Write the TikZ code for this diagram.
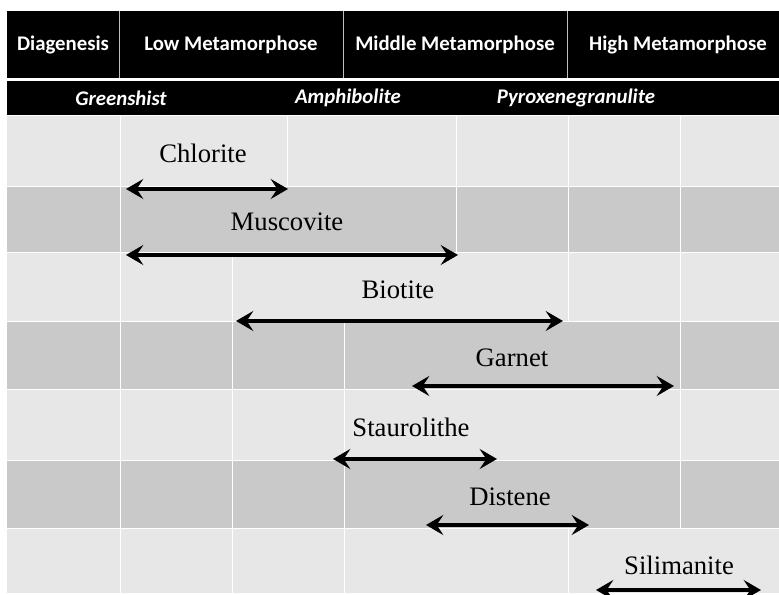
\documentclass[tikz,border=0pt]{standalone}
\usepackage{fontspec}
\setmainfont{Liberation Serif}
\newfontfamily\hdfont{Carlito}
\usetikzlibrary{arrows.meta}

\definecolor{rowlight}{RGB}{231,231,231}
\definecolor{rowdark}{RGB}{201,201,201}
\definecolor{hdline}{RGB}{190,190,190}

\tikzset{
  hdtext/.style={text=white, inner sep=0.75pt, font=\hdfont\bfseries\fontsize{15.6}{18}\selectfont},
  subtext/.style={text=white, inner sep=0.75pt, font=\hdfont\bfseries\itshape\fontsize{15.6}{18}\selectfont},
  mineral/.style={inner sep=0.75pt, font=\fontsize{20}{24}\selectfont},
  spanarrow/.style={line width=3.6pt, {Stealth[length=13pt,width=15pt,inset=5pt]}-{Stealth[length=13pt,width=15pt,inset=5pt]}},
  gridline/.style={white, line width=0.75pt},
}

\begin{document}
\begin{tikzpicture}[x=0.75pt,y=0.75pt,yscale=-1,xscale=1]
\useasboundingbox (0,0) rectangle (779,595);
\fill[white] (0,0) rectangle (779,595);
%Header bars
\fill[black] (7,11) rectangle (779,78);
\fill[black] (7,81) rectangle (779,115);
\draw[hdline, line width=0.75pt] (119,11) -- (119,78);
\draw[hdline, line width=0.75pt] (343,11) -- (343,78);
\draw[hdline, line width=0.75pt] (567,11) -- (567,78);
%Rows
\fill[rowlight] (7,116) rectangle (779,187);
\fill[rowdark]  (7,187) rectangle (779,253);
\fill[rowlight] (7,253) rectangle (779,322);
\fill[rowdark]  (7,322) rectangle (779,390);
\fill[rowlight] (7,390) rectangle (779,461);
\fill[rowdark]  (7,461) rectangle (779,528);
\fill[rowlight] (7,528) rectangle (779,593);
%Grid lines
\draw[gridline] (7,187) -- (779,187) (7,253) -- (779,253) (7,322) -- (779,322)
  (7,390) -- (779,390) (7,461) -- (779,461) (7,528) -- (779,528);
\draw[gridline] (120,116) -- (120,187) (287,116) -- (287,187) (456,116) -- (456,187)
  (568,116) -- (568,187) (680,116) -- (680,187);
\draw[gridline] (120,187) -- (120,253) (456,187) -- (456,253) (568,187) -- (568,253)
  (680,187) -- (680,253);
\draw[gridline] (120,253) -- (120,322) (232,253) -- (232,322) (568,253) -- (568,322)
  (680,253) -- (680,322);
\draw[gridline] (120,322) -- (120,528) (232,322) -- (232,528) (344,322) -- (344,528)
  (680,322) -- (680,528);
\draw[gridline] (120,528) -- (120,593) (232,528) -- (232,593) (344,528) -- (344,593)
  (568,528) -- (568,593);
% Text Node
\node[hdtext] (diag) at (63,45) {Diagenesis};
\node[hdtext] (low) at (231,45) {Low Metamorphose};
\node[hdtext] (mid) at (455,45) {Middle Metamorphose};
\node[hdtext] (high) at (678,45) {High Metamorphose};
% Text Node
\node[subtext] (green) at (121,98) {Greenshist};
\node[subtext] (amph) at (348,98) {Amphibolite};
\node[subtext] (pyrox) at (576,98) {Pyroxenegranulite};
% Text Node
\node[mineral] (chlorite) at (203,153) {Chlorite};
\node[mineral] (muscovite) at (287,222) {Muscovite};
\node[mineral] (biotite) at (398,290) {Biotite};
\node[mineral] (garnet) at (512,358) {Garnet};
\node[mineral] (staurolithe) at (411,427) {Staurolithe};
\node[mineral] (distene) at (510,497) {Distene};
\node[mineral] (silimanite) at (679,565) {Silimanite};
%Range ends
\coordinate (chlorite-w) at (126,189);   \coordinate (chlorite-e) at (288,189);
\coordinate (muscovite-w) at (126,255);  \coordinate (muscovite-e) at (458,255);
\coordinate (biotite-w) at (236,321);    \coordinate (biotite-e) at (563,321);
\coordinate (garnet-w) at (412,386);     \coordinate (garnet-e) at (674,386);
\coordinate (staurolithe-w) at (333,459);\coordinate (staurolithe-e) at (497,459);
\coordinate (distene-w) at (426,525);    \coordinate (distene-e) at (589,525);
\coordinate (silimanite-w) at (596,590); \coordinate (silimanite-e) at (761,590);
%Straight Lines
\draw[spanarrow] (chlorite-w) -- (chlorite-e);
\draw[spanarrow] (muscovite-w) -- (muscovite-e);
\draw[spanarrow] (biotite-w) -- (biotite-e);
\draw[spanarrow] (garnet-w) -- (garnet-e);
\draw[spanarrow] (staurolithe-w) -- (staurolithe-e);
\draw[spanarrow] (distene-w) -- (distene-e);
\draw[spanarrow] (silimanite-w) -- (silimanite-e);
\end{tikzpicture}
\end{document}
